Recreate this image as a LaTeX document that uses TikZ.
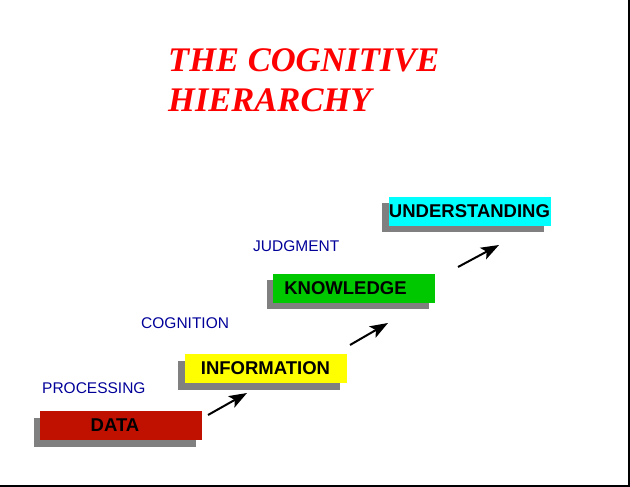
\documentclass[tikz,border=0pt]{standalone}
\usepackage{fontspec}
\setmainfont{Liberation Serif}
\setsansfont{Liberation Sans}
\usetikzlibrary{arrows.meta,shadows}
\definecolor{datared}{RGB}{192,16,0}
\definecolor{infoyellow}{RGB}{255,255,0}
\definecolor{knowgreen}{RGB}{0,200,0}
\definecolor{undercyan}{RGB}{0,255,255}
\definecolor{stepblue}{RGB}{0,0,153}
\definecolor{titlered}{RGB}{255,0,0}

\begin{document}
\begin{tikzpicture}[x=1pt, y=-1pt,
    level/.style={rectangle, minimum width=162pt, minimum height=29pt, inner sep=0pt, font=\sffamily\bfseries\fontsize{18.5}{20}\selectfont, drop shadow={shadow xshift=-6.5pt, shadow yshift=-6.5pt, fill=gray, opacity=1}},
    process/.style={anchor=west, inner sep=0pt, text=stepblue, font=\sffamily\fontsize{15.5}{17}\selectfont},
    title/.style={anchor=base west, inner sep=0pt, text=titlered, font=\bfseries\itshape\fontsize{34.5}{39}\selectfont},
    arrow/.style={-{Stealth[length=18pt,width=13pt,inset=4pt]}, line width=2pt}
]
    \useasboundingbox (0,0) rectangle (630,487);

    % frame edges
    \draw[line width=2pt] (629,0) -- (629,486) -- (0,486);

    \node[title] (title1) at (168,72) {THE COGNITIVE};
    \node[title] (title2) at (168,111) {HIERARCHY};

    \node[level, fill=datared] (data) at (121,425.5) {\hspace*{-12pt}DATA};
    \node[level, fill=infoyellow] (info) at (265.5,368.5) {INFORMATION};
    \node[level, fill=knowgreen] (knowledge) at (354,288) {\hspace*{-17pt}KNOWLEDGE};
    \node[level, fill=undercyan] (understanding) at (469.5,211) {UNDERSTANDING};

    \node[process] (processing) at (42,388) {PROCESSING};
    \node[process] (cognition) at (141,323) {COGNITION};
    \node[process] (judgment) at (253,246) {JUDGMENT};

    \coordinate (a1) at (208,415);
    \coordinate (b1) at (247,393);
    \coordinate (a2) at (350,345);
    \coordinate (b2) at (388,323);
    \coordinate (a3) at (458,267);
    \coordinate (b3) at (499,245);

    \draw[arrow] (a1) -- (b1);
    \draw[arrow] (a2) -- (b2);
    \draw[arrow] (a3) -- (b3);
\end{tikzpicture}
\end{document}
